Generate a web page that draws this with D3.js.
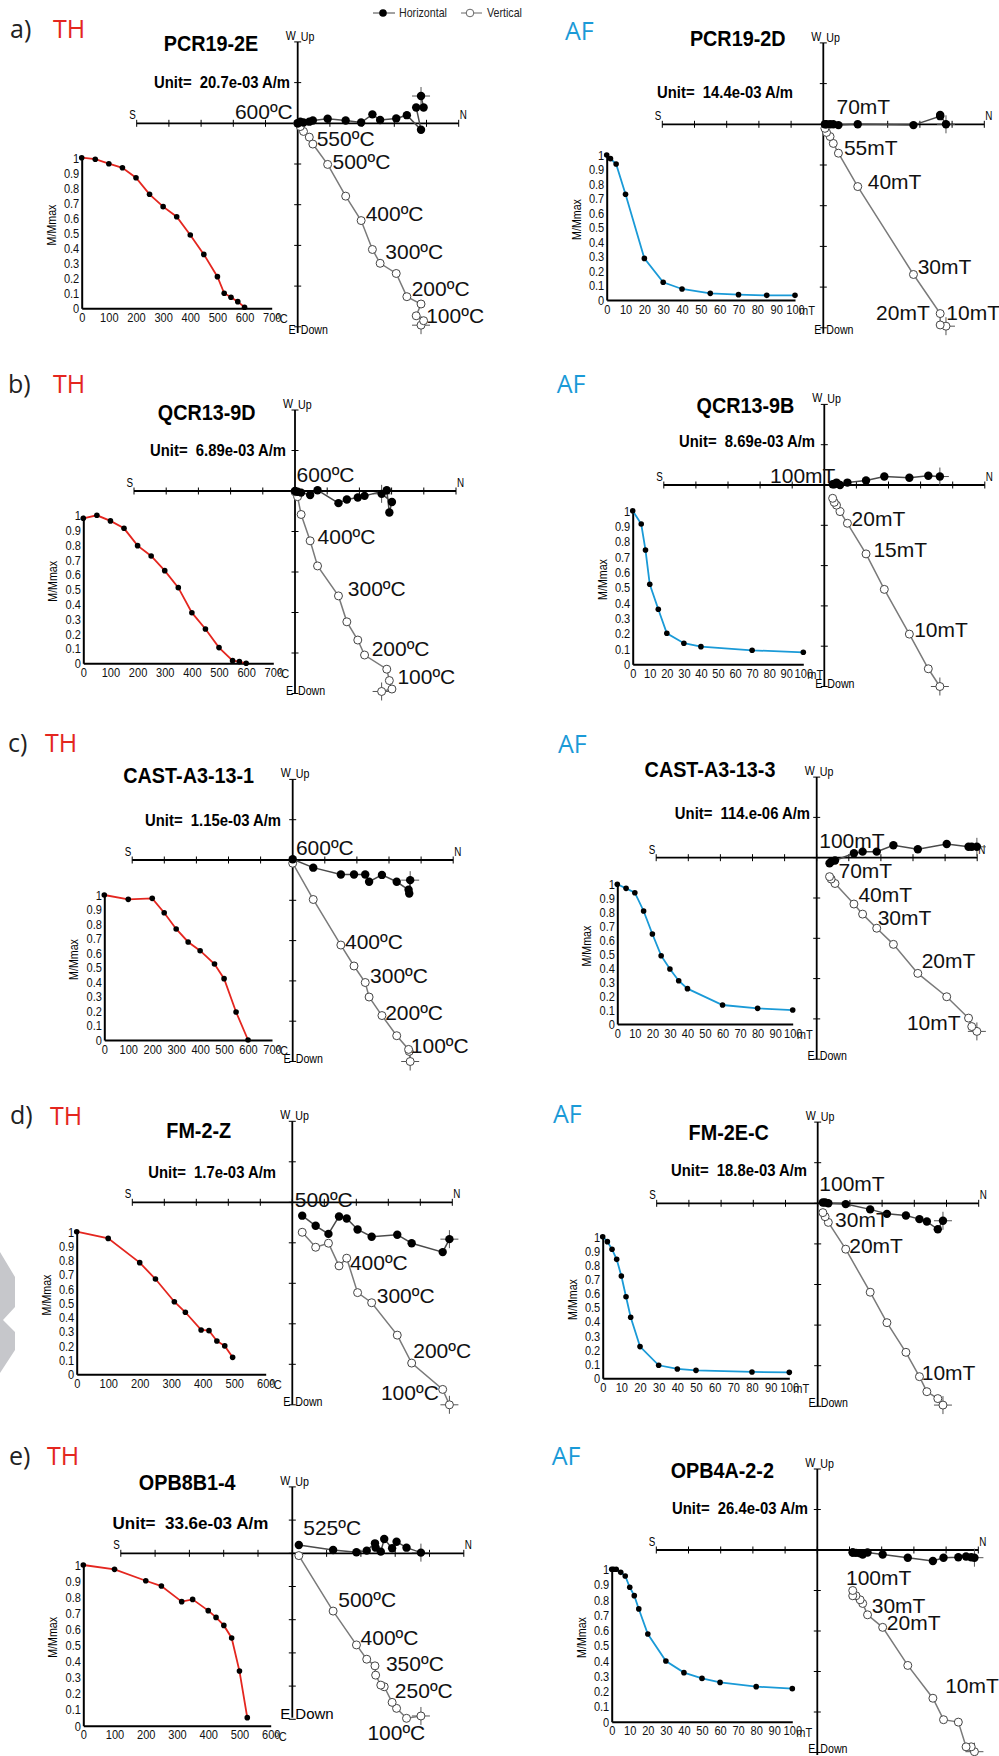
<!DOCTYPE html>
<html>
<head>
<meta charset="utf-8">
<script src="https://cdn.jsdelivr.net/npm/d3@7"></script>
<style>
  body { margin: 0; background: #fff; }
  text { white-space: pre; }
</style>
</head>
<body>
<svg id="fig" width="999" height="1756"></svg>
<script>
// ---------- data ----------
// Zijderveld coordinates are in "Unit" steps (one axis tick = one unit),
// N positive to the right, E (horizontal) and Down (vertical) positive downward.

const letters = ["a)", "b)", "c)", "d)", "e)"];
const titles = ["PCR19-2E", "PCR19-2D", "QCR13-9D", "QCR13-9B", "CAST-A3-13-1", "CAST-A3-13-3", "FM-2-Z", "FM-2E-C", "OPB8B1-4", "OPB4A-2-2"];
const units = ["20.7e-03", "14.4e-03", "6.89e-03", "8.69e-03", "1.15e-03", "114.e-06", "1.7e-03", "18.8e-03", "33.6e-03", "26.4e-03"];

// a) TH  PCR19-2E
const aThStep = [0, 50, 100, 150, 200, 250, 300, 350, 400, 450, 500, 525, 550, 575, 600];
const aThMag = [1.0, 0.99, 0.96, 0.933, 0.867, 0.757, 0.675, 0.608, 0.487, 0.358, 0.21, 0.10, 0.073, 0.044, 0.007];
const aThN = [3.83, 3.91, 3.68, 3.83, 3.39, 3.06, 2.56, 2.32, 1.97, 1.49, 0.93, 0.47, 0.36, 0.18, 0.08, 0];
const aThE = [-0.67, -0.39, -0.39, 0.16, -0.20, -0.12, -0.08, -0.22, -0.02, -0.07, -0.11, -0.07, -0.04, -0.02, -0.04, 0];
const aThD = [4.96, 4.85, 4.73, 4.44, 4.26, 3.69, 3.44, 3.10, 2.39, 1.79, 1.01, 0.51, 0.34, 0.20, 0.08, 0];
const aThLabels = [["600ºC", -1.95, -0.11], ["550ºC", 0.59, 0.57], ["500ºC", 1.08, 1.12], ["400ºC", 2.11, 2.39], ["300ºC", 2.72, 3.34], ["200ºC", 3.54, 4.25], ["100ºC", 3.99, 4.90]];

// a) AF  PCR19-2D
const aAfStep = [0, 2, 5, 10, 20, 30, 40, 55, 70, 85, 100];
const aAfMag = [1.0, 0.975, 0.938, 0.729, 0.287, 0.122, 0.076, 0.046, 0.037, 0.032, 0.032];
const aAfN = [3.81, 3.63, 3.63, 2.80, 1.07, 0.47, 0.31, 0.21, 0.10, 0.05];
const aAfE = [0, -0.23, -0.20, 0.02, 0, 0.02, 0, 0, 0, 0];
const aAfD = [4.96, 4.93, 4.65, 3.69, 1.53, 0.71, 0.47, 0.30, 0.20, 0.10];
const aAfLabels = [["70mT", 0.41, -0.25], ["55mT", 0.64, 0.75], ["40mT", 1.38, 1.6], ["30mT", 2.93, 3.68], ["20mT", 1.64, 4.8], ["10mT", 3.82, 4.8]];

// b) TH  QCR13-9D
const bThStep = [0, 50, 100, 150, 200, 250, 300, 350, 400, 450, 500, 550, 575, 600];
const bThMag = [0.98, 1.0, 0.962, 0.912, 0.795, 0.725, 0.626, 0.511, 0.342, 0.232, 0.106, 0.018, 0.011, 0.0];
const bThN = [2.69, 3.01, 2.93, 2.85, 2.16, 1.95, 1.61, 1.35, 0.70, 0.47, 0.19, 0.08, 0];
const bThE = [0.07, 0.27, 0.53, -0.02, 0.12, 0.16, 0.21, 0.30, -0.02, 0.10, 0.04, 0.02, 0];
const bThD = [4.95, 4.89, 4.68, 4.40, 4.05, 3.68, 3.23, 2.59, 1.85, 1.23, 0.58, 0.14, 0.02];
const bThLabels = [["600ºC", 0.05, -0.23], ["400ºC", 0.70, 1.31], ["300ºC", 1.64, 2.59], ["200ºC", 2.38, 4.07], ["100ºC", 3.18, 4.77]];

// b) AF  QCR13-9B
const bAfStep = [0, 5, 7.5, 10, 15, 20, 30, 40, 70, 100];
const bAfMag = [1.0, 0.913, 0.744, 0.521, 0.358, 0.202, 0.137, 0.115, 0.091, 0.078];
const bAfN = [3.60, 3.24, 2.65, 1.87, 1.30, 0.72, 0.49, 0.38, 0.31, 0.26];
const bAfE = [-0.21, -0.23, -0.18, -0.21, -0.11, -0.06, 0, -0.06, -0.02, -0.02];
const bAfD = [5.0, 4.56, 3.70, 2.59, 1.71, 0.95, 0.66, 0.50, 0.43, 0.33];
const bAfLabels = [["100mT", -1.69, -0.04], ["20mT", 0.85, 1.01], ["15mT", 1.53, 1.79], ["10mT", 2.80, 3.78]];

// c) TH  CAST-A3-13-1
const cThStep = [0, 100, 200, 250, 300, 350, 400, 460, 500, 550, 600];
const cThMag = [1.0, 0.970, 0.977, 0.878, 0.766, 0.676, 0.616, 0.524, 0.423, 0.193, 0.0];
const cThN = [3.66, 3.63, 3.61, 3.24, 2.78, 2.38, 2.26, 1.91, 1.50, 0.64, 0];
const cThE = [0.50, 0.83, 0.74, 0.54, 0.37, 0.54, 0.36, 0.36, 0.36, 0.19, -0.02];
const cThD = [5.0, 4.75, 4.70, 4.36, 3.86, 3.40, 3.04, 2.63, 2.11, 0.98, 0.08];
const cThLabels = [["600ºC", 0.10, -0.12], ["400ºC", 1.63, 2.21], ["300ºC", 2.41, 3.06], ["200ºC", 2.88, 3.97], ["100ºC", 3.68, 4.79]];

// c) AF  CAST-A3-13-3
const cAfStep = [0, 5, 10, 15, 20, 25, 30, 35, 40, 60, 80, 100];
const cAfMag = [1.0, 0.971, 0.940, 0.809, 0.644, 0.489, 0.394, 0.310, 0.253, 0.136, 0.112, 0.100];
const cAfN = [4.99, 4.83, 4.73, 4.05, 3.15, 2.39, 1.87, 1.43, 1.16, 0.57, 0.45, 0.40];
const cAfE = [-0.27, -0.27, -0.27, -0.34, -0.21, -0.31, -0.15, -0.15, -0.11, 0.07, 0.10, 0.14];
const cAfD = [4.31, 4.19, 3.98, 3.45, 2.87, 2.15, 1.75, 1.40, 1.15, 0.64, 0.53, 0.47];
const cAfLabels = [["100mT", 0.08, -0.25], ["70mT", 0.68, 0.50], ["40mT", 1.30, 1.09], ["30mT", 1.90, 1.67], ["20mT", 3.27, 2.74], ["10mT", 2.81, 4.27]];

// d) TH  FM-2-Z
const dThStep = [0, 100, 200, 250, 310, 345, 395, 420, 445, 470, 495];
const dThMag = [1.0, 0.953, 0.783, 0.668, 0.509, 0.435, 0.311, 0.306, 0.234, 0.199, 0.119];
const dThN = [4.91, 4.70, 3.73, 3.28, 2.48, 2.04, 1.70, 1.46, 1.13, 0.73, 0.31];
const dThE = [0.91, 1.23, 1.01, 0.80, 0.85, 0.67, 0.40, 0.35, 0.78, 0.58, 0.33];
const dThD = [5.0, 4.62, 3.97, 3.28, 2.48, 2.23, 1.38, 1.57, 1.01, 1.11, 0.74];
const dThLabels = [["500ºC", 0.08, 0.12], ["400ºC", 1.80, 1.67], ["300ºC", 2.64, 2.49], ["200ºC", 3.78, 3.85], ["100ºC", 2.77, 4.88]];

// d) AF  FM-2E-C
const dAfStep = [0, 2.5, 5, 7.5, 10, 12.5, 15, 20, 30, 40, 50, 80, 100];
const dAfMag = [1.0, 0.965, 0.911, 0.840, 0.722, 0.576, 0.431, 0.224, 0.092, 0.066, 0.056, 0.045, 0.042];
const dAfN = [3.89, 3.73, 3.39, 3.16, 2.74, 2.15, 1.63, 0.87, 0.33, 0.23, 0.16];
const dAfE = [0.43, 0.64, 0.45, 0.39, 0.30, 0.26, 0.15, 0.02, 0, -0.02, -0.02];
const dAfD = [4.97, 4.81, 4.64, 4.27, 3.67, 2.94, 2.19, 1.13, 0.47, 0.33, 0.23];
const dAfLabels = [["100mT", 0.05, -0.31], ["30mT", 0.54, 0.58], ["20mT", 0.98, 1.22], ["10mT", 3.23, 4.34]];

// e) TH  OPB8B1-4
const eThStep = [0, 100, 200, 250, 315, 350, 400, 425, 450, 475, 500, 525];
const eThMag = [1.0, 0.973, 0.902, 0.869, 0.772, 0.786, 0.716, 0.674, 0.624, 0.546, 0.340, 0.050];
const eThN = [3.75, 3.33, 3.04, 2.91, 2.68, 2.58, 2.43, 2.41, 2.17, 1.87, 1.19, 0.19];
const eThE = [-0.02, -0.17, -0.35, -0.15, -0.43, -0.05, -0.17, -0.30, -0.08, -0.03, -0.10, -0.25];
const eThD = [4.90, 4.97, 4.67, 4.49, 4.02, 3.97, 3.67, 3.39, 3.19, 2.76, 1.74, 0.07];
const eThLabels = [["525ºC", 0.32, -0.55], ["500ºC", 1.34, 1.61], ["400ºC", 1.99, 2.76], ["350ºC", 2.73, 3.55], ["250ºC", 2.99, 4.35], ["100ºC", 2.19, 5.63]];

// e) AF  OPB4A-2-2
const eAfStep = [0, 1, 2.5, 5, 7.5, 10, 12.5, 15, 20, 30, 40, 50, 60, 80, 100];
const eAfMag = [1.0, 1.0, 1.0, 0.980, 0.956, 0.882, 0.827, 0.740, 0.575, 0.398, 0.322, 0.284, 0.258, 0.230, 0.217];
const eAfN = [4.88, 4.78, 4.62, 4.38, 3.92, 3.59, 2.81, 2.03, 1.56, 1.41, 1.33, 1.20, 1.10, 1.10];
const eAfE = [0.19, 0.18, 0.16, 0.18, 0.19, 0.27, 0.19, 0.11, 0.06, 0.11, 0.08, 0.07, 0.06, 0.06];
const eAfD = [4.98, 4.86, 4.86, 4.25, 4.19, 3.66, 2.85, 1.91, 1.60, 1.32, 1.23, 1.13, 1.13, 1.00];
const eAfLabels = [["100mT", 0.89, 0.86], ["30mT", 1.69, 1.55], ["20mT", 2.16, 1.97], ["10mT", 3.97, 3.54]];

// ---------- layout ----------
const RED = "#e4261f", BLUE = "#1a9ad7";
const SANS = "'Liberation Sans',Arial,sans-serif";
const OPEN = "'Open Sans',sans-serif";
const NARROW_X = 0.82;   // Arial Narrow look: Liberation Sans squeezed horizontally
const BOLD_X = 0.9;      // squeeze for the bold sample names / units

const panels = [
  { letter: letters[0], method: "TH", title: titles[0], unit: units[0], step: aThStep, mag: aThMag, N: aThN, E: aThE, D: aThD, labels: aThLabels,
    lx: 10, ly: 38, mx: 53, my: 38, tx: 211, ty: 51, ux: 290, uy: 88,
    ox: 297.7, oy: 123.3, ht: 32.2, vt: 40.7, vb: 5.15, ix0: 81.7, ix1: 271.7, iy0: 308.3, iy1: 157.7 },
  { method: "AF", title: titles[1], unit: units[1], step: aAfStep, mag: aAfMag, N: aAfN, E: aAfE, D: aAfD, labels: aAfLabels,
    mx: 565, my: 40, tx: 737.7, ty: 46, ux: 793, uy: 98,
    ox: 823.3, oy: 124.3, ht: 32.2, vt: 40.7, vb: 5.14, ix0: 606.7, ix1: 795, iy0: 300, iy1: 155 },
  { letter: letters[1], method: "TH", title: titles[2], unit: units[2], step: bThStep, mag: bThMag, N: bThN, E: bThE, D: bThD, labels: bThLabels,
    lx: 8, ly: 393, mx: 53, my: 393, tx: 206.7, ty: 420, ux: 286, uy: 456,
    ox: 295, oy: 491, ht: 32.2, vt: 40.5, vb: 5.0, ix0: 83.3, ix1: 273.3, iy0: 663.3, iy1: 515.3 },
  { method: "AF", title: titles[3], unit: units[3], step: bAfStep, mag: bAfMag, N: bAfN, E: bAfE, D: bAfD, labels: bAfLabels,
    mx: 556.7, my: 393, tx: 745.5, ty: 413, ux: 815, uy: 447,
    ox: 824.3, oy: 485, ht: 32.1, vt: 40.3, vb: 5.0, ix0: 632.7, ix1: 803.3, iy0: 664.3, iy1: 510.7 },
  { letter: letters[2], method: "TH", title: titles[4], unit: units[4], step: cThStep, mag: cThMag, N: cThN, E: cThE, D: cThD, labels: cThLabels,
    lx: 8, ly: 752, mx: 45, my: 752, tx: 188.7, ty: 783, ux: 281, uy: 826,
    ox: 292.7, oy: 860, ht: 32.1, vt: 40.3, vb: 5.0, ix0: 104.3, ix1: 272, iy0: 1040, iy1: 895 },
  { method: "AF", title: titles[5], unit: units[5], step: cAfStep, mag: cAfMag, N: cAfN, E: cAfE, D: cAfD, labels: cAfLabels,
    mx: 558, my: 753, tx: 710, ty: 777, ux: 810, uy: 819,
    ox: 816.7, oy: 857.7, ht: 32.1, vt: 40.3, vb: 5.0, ix0: 617.3, ix1: 792.7, iy0: 1024, iy1: 884.3 },
  { letter: letters[3], method: "TH", title: titles[6], unit: units[6], step: dThStep, mag: dThMag, N: dThN, E: dThE, D: dThD, labels: dThLabels,
    lx: 10, ly: 1124, mx: 50, my: 1125, tx: 198.7, ty: 1138, ux: 276, uy: 1178,
    ox: 292.3, oy: 1202.3, ht: 32, vt: 40.5, vb: 5.0, ix0: 76.7, ix1: 265.7, iy0: 1374.3, iy1: 1231.7, xmax: 600 },
  { method: "AF", title: titles[7], unit: units[7], step: dAfStep, mag: dAfMag, N: dAfN, E: dAfE, D: dAfD, labels: dAfLabels,
    mx: 553, my: 1123, tx: 728.7, ty: 1140, ux: 807, uy: 1176,
    ox: 817.7, oy: 1203.3, ht: 32.2, vt: 40.6, vb: 5.0, ix0: 602.7, ix1: 789.3, iy0: 1378.3, iy1: 1236.7 },
  { letter: letters[4], method: "TH", title: titles[8], unit: units[8], step: eThStep, mag: eThMag, N: eThN, E: eThE, D: eThD, labels: eThLabels,
    lx: 9, ly: 1465, mx: 47, my: 1465, tx: 187.2, ty: 1490, ux: 268.3, uy: 1529, wideUnit: true, bigDown: true,
    ox: 292.3, oy: 1553.3, ht: 34.3, vt: 33.2, vb: 4.95, ix0: 83.3, ix1: 270.7, iy0: 1725.7, iy1: 1565, xmax: 600 },
  { method: "AF", title: titles[9], unit: units[9], step: eAfStep, mag: eAfMag, N: eAfN, E: eAfE, D: eAfD, labels: eAfLabels,
    mx: 551.7, my: 1465, tx: 722.3, ty: 1478, ux: 808, uy: 1514,
    ox: 817.3, oy: 1550, ht: 32.2, vt: 40.5, vb: 5.06, ix0: 611.7, ix1: 792.3, iy0: 1721.7, iy1: 1569.3 }
];

const svg = d3.select("#fig");

// faint grey shape left over at the page edge next to panel d
svg.append("path")
  .attr("d", "M0,1252 L15,1277 L15,1307 L3,1320 L15,1332 L15,1350 L0,1373 Z")
  .attr("fill", "#c6c7cb");

function txt(g, x, y, s, size, opts = {}) {
  const t = g.append("text")
    .attr("text-anchor", opts.anchor || "start")
    .style("font-family", opts.font || SANS)
    .style("font-size", size + "px")
    .style("font-weight", opts.bold ? "bold" : "normal")
    .attr("fill", opts.fill || "#000")
    .text(s);
  if (opts.narrow) t.attr("transform", `translate(${x},${y}) scale(${opts.narrow === true ? NARROW_X : opts.narrow},1)`);
  else t.attr("x", x).attr("y", y);
  return t;
}

function drawPanel(p) {
  const g = svg.append("g");
  const isTh = p.method === "TH";

  if (p.letter) txt(g, p.lx, p.ly, p.letter, 25, { font: OPEN, fill: "#222" });
  txt(g, p.mx, p.my, p.method, 25, { font: OPEN, fill: isTh ? RED : BLUE });
  txt(g, p.tx, p.ty, p.title, 22, { bold: true, anchor: "middle", narrow: BOLD_X });
  if (p.wideUnit) txt(g, p.ux, p.uy, "Unit=  " + p.unit + " A/m", 17, { bold: true, anchor: "end" });
  else txt(g, p.ux, p.uy, "Unit=  " + p.unit + " A/m", 16.5, { bold: true, anchor: "end", narrow: BOLD_X });

  // ----- Zijderveld diagram -----
  const x = d3.scaleLinear().domain([0, 1]).range([p.ox, p.ox + p.ht]);
  const y = d3.scaleLinear().domain([0, 1]).range([p.oy, p.oy + p.vt]);
  const ax = g.append("g").attr("stroke", "#000");
  ax.append("line").attr("x1", x(-5)).attr("x2", x(5)).attr("y1", y(0)).attr("y2", y(0)).attr("stroke-width", 1.8);
  ax.append("line").attr("x1", x(0)).attr("x2", x(0)).attr("y1", y(-2)).attr("y2", y(p.vb)).attr("stroke-width", 1.8);
  ax.selectAll(".ht").data(d3.range(-5, 6)).join("line")
    .attr("x1", d => x(d)).attr("x2", d => x(d))
    .attr("y1", y(0) - 3.5).attr("y2", y(0) + 3.5).attr("stroke-width", 1);
  ax.selectAll(".vt").data(d3.range(-2, Math.floor(p.vb + 0.06) + 1)).join("line")
    .attr("x1", x(0) - 3.5).attr("x2", x(0) + 3.5)
    .attr("y1", d => y(d)).attr("y2", d => y(d)).attr("stroke-width", 1);

  txt(g, x(-5) - 1, y(0) - 4, "S", 12, { anchor: "end", narrow: true });
  txt(g, x(5) + 1, y(0) - 4, "N", 12, { narrow: true });
  txt(g, x(0) - 2, y(-2) - 2, "W", 13, { anchor: "end", narrow: true });
  txt(g, x(0) + 3, y(-2) - 1, "Up", 13, { narrow: true });
  const dy = Math.min(y(p.vb) + 1, 1753);
  if (p.bigDown) {
    txt(g, x(0) - 2, dy, "E", 15, { anchor: "end" });
    txt(g, x(0) + 3, dy, "Down", 15);
  } else {
    txt(g, x(0) - 2, dy, "E", 13, { anchor: "end", narrow: true });
    txt(g, x(0) + 3, dy, "Down", 13, { narrow: true });
  }

  const pts = p.N.map((n, i) => ({ n: n, e: p.E[i], d: p.D[i] }));
  const lineV = d3.line().x(d => x(d.n)).y(d => y(d.d));
  const lineH = d3.line().x(d => x(d.n)).y(d => y(d.e));

  // NRM crosses
  const c0 = pts[0];
  [[c0.n, c0.e], [c0.n, c0.d]].forEach(([n, v]) => {
    g.append("line").attr("x1", x(n) - 9).attr("x2", x(n) + 9).attr("y1", y(v)).attr("y2", y(v)).attr("stroke", "#555").attr("stroke-width", 1);
    g.append("line").attr("x1", x(n)).attr("x2", x(n)).attr("y1", y(v) - 9).attr("y2", y(v) + 9).attr("stroke", "#555").attr("stroke-width", 1);
  });

  g.append("path").datum(pts).attr("d", lineV).attr("fill", "none").attr("stroke", "#7a7a7a").attr("stroke-width", 1.5);
  g.append("path").datum(pts).attr("d", lineH).attr("fill", "none").attr("stroke", "#4a4a4a").attr("stroke-width", 1.5);

  g.selectAll(".vp").data(pts).join("circle")
    .attr("cx", d => x(d.n)).attr("cy", d => y(d.d)).attr("r", 4)
    .attr("fill", "#fff").attr("stroke", "#444").attr("stroke-width", 1);
  g.selectAll(".hp").data(pts).join("circle")
    .attr("cx", d => x(d.n)).attr("cy", d => y(d.e)).attr("r", 4.2)
    .attr("fill", "#000");

  p.labels.forEach(([s, n, d]) => txt(g, x(n), y(d), s, 21, { fill: "#111" }));

  // ----- inset demagnetisation curve -----
  const xmax = p.xmax || (isTh ? 700 : 100);
  const ix = d3.scaleLinear().domain([0, xmax]).range([p.ix0, p.ix1]);
  const iy = d3.scaleLinear().domain([0, 1]).range([p.iy0, p.iy1]);

  const xa = g.append("g").attr("transform", `translate(0,${p.iy0})`)
    .call(d3.axisBottom(ix).tickValues(d3.range(0, xmax + 1, isTh ? 100 : 10)).tickSize(0).tickSizeOuter(0).tickPadding(4));
  const ya = g.append("g").attr("transform", `translate(${p.ix0},0)`)
    .call(d3.axisLeft(iy).tickValues(d3.range(0, 11).map(i => i / 10)).tickFormat(d => String(+d.toFixed(1)))
      .tickSize(0).tickSizeOuter(0).tickPadding(3));
  [xa, ya].forEach(a => {
    a.select(".domain").attr("stroke", "#000").attr("stroke-width", 2);
    a.selectAll("text").style("font-family", SANS).style("font-size", "13.5px").attr("fill", "#111")
      .attr("transform", `scale(${NARROW_X},1)`);
  });
  txt(g, ix(xmax) + 4, p.iy0 + 15, isTh ? "ºC" : "mT", 13.5, { fill: "#111", narrow: true });
  g.append("text")
    .attr("transform", `translate(${p.ix0 - 26},${(p.iy0 + p.iy1) / 2 - 8}) rotate(-90) scale(${NARROW_X},1)`)
    .attr("text-anchor", "middle")
    .style("font-family", SANS).style("font-size", "13px")
    .text("M/Mmax");

  const curve = p.step.map((s, i) => ({ s: s, m: p.mag[i] }));
  g.append("path").datum(curve)
    .attr("d", d3.line().x(d => ix(d.s)).y(d => iy(d.m)))
    .attr("fill", "none").attr("stroke", isTh ? RED : BLUE).attr("stroke-width", 1.8);
  g.selectAll(".dp").data(curve).join("circle")
    .attr("cx", d => ix(d.s)).attr("cy", d => iy(d.m)).attr("r", 2.8).attr("fill", "#000");
}

panels.forEach(drawPanel);

// ---------- legend ----------
const lg = svg.append("g");
lg.append("line").attr("x1", 373).attr("x2", 395).attr("y1", 13).attr("y2", 13).attr("stroke", "#444");
lg.append("circle").attr("cx", 383).attr("cy", 13).attr("r", 3.8).attr("fill", "#000");
txt(lg, 399, 17, "Horizontal", 13, { fill: "#222", narrow: true });
lg.append("line").attr("x1", 461).attr("x2", 482).attr("y1", 13).attr("y2", 13).attr("stroke", "#666");
lg.append("circle").attr("cx", 470).attr("cy", 13).attr("r", 3.8).attr("fill", "#fff").attr("stroke", "#666");
txt(lg, 487, 17, "Vertical", 13, { fill: "#222", narrow: true });
</script>
</body>
</html>
